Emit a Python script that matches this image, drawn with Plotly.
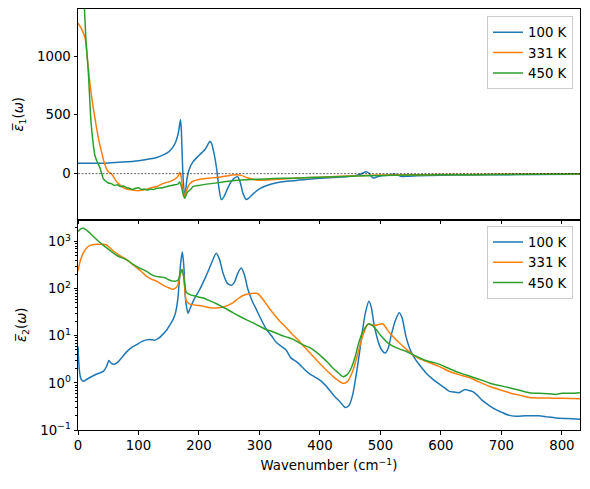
import plotly.graph_objects as go

labels = ["100 K", "331 K", "450 K"]
colors = ["#1f77b4", "#ff7f0e", "#2ca02c"]

# ---- eps1 (top panel) ----
w1_100 = [0, 25, 50, 75, 100, 120, 130, 141, 150, 157, 162, 166, 169.5, 171, 172.5, 174, 176.6, 178, 180, 184, 190, 200, 210, 215, 218, 221, 225, 229, 233, 237, 241, 247, 253, 258, 264, 268, 273, 278, 283, 290, 300, 310, 320, 335, 350, 366, 380, 400, 430, 455, 465, 471, 476, 481, 485, 488, 493, 500, 510, 517, 523, 528, 535, 545, 560, 600, 650, 700, 750, 830]
e1_100 = [88, 88, 90, 98, 110, 126, 138, 160, 185, 225, 275, 350, 460, 350, 120, -60, -203, -150, -50, 40, 100, 155, 205, 250, 275, 255, 170, 50, -120, -220, -200, -130, -70, -40, -26, -70, -170, -220, -205, -170, -130, -105, -88, -72, -62, -55, -48, -40, -30, -20, -10, 5, 17, 5, -25, -37, -30, -20, -15, -10, -5, -10, -25, -22, -18, -14, -11, -9, -7, -5]

w1_331 = [0, 5, 11.5, 16, 20, 24, 28, 33, 39, 43, 47, 51, 55, 58, 62, 67, 72, 80, 90, 100, 110, 119, 130, 141, 150, 160, 165, 168, 170, 172, 174.5, 176.6, 179, 182, 185, 190, 200, 215, 229, 245, 255, 263, 270, 280, 295, 310, 330, 350, 366, 400, 450, 500, 550, 600, 700, 830]
e1_331 = [1280, 1240, 1158, 950, 755, 600, 472, 320, 183, 100, 43, 12, 0, -20, -55, -85, -110, -130, -140, -145, -138, -123, -110, -83, -70, -46, -25, 11, -10, -80, -160, -203, -150, -110, -85, -65, -50, -40, -32, -20, -12, -9, -15, -35, -54, -55, -48, -42, -37, -30, -20, -12, -10, -8, -6, -4]

w1_450 = [0, 4, 8, 10.4, 13, 17, 21.5, 25, 28, 31, 33.5, 37, 42, 46, 50, 55, 60, 65, 70, 75, 80, 85, 90, 95, 100, 105, 110, 115, 120, 125, 130, 140, 152, 160, 165, 168, 171, 174, 176.6, 179, 182, 186, 190, 200, 220, 240, 256, 280, 310, 340, 366, 400, 450, 500, 550, 600, 700, 830]
e1_450 = [2800, 2300, 1800, 1440, 1150, 870, 440, 260, 154, 110, 83, 40, -45, -65, -80, -85, -100, -95, -110, -105, -120, -125, -135, -125, -120, -135, -130, -140, -131, -135, -125, -120, -103, -95, -90, -72, -110, -180, -210, -180, -150, -135, -111, -100, -85, -72, -60, -52, -45, -40, -37, -30, -22, -15, -12, -10, -7, -3]

# ---- eps2 (bottom panel) ----
w2_100 = [0, 2, 5, 9, 14, 22, 31, 42, 47, 51, 55, 60, 65, 72, 80, 90, 97, 105, 113, 120, 127, 134, 141, 147, 152, 157, 161, 165, 168, 170, 172.5, 175, 177, 179, 182, 186, 192, 201, 212, 220, 228.5, 234, 240, 247, 253.5, 259, 264, 270, 275, 281, 288, 295, 303, 311, 320, 328, 336, 344, 352, 360, 366, 375, 383, 391, 400, 408, 416, 424, 433, 442, 448, 454, 460, 465, 470, 475, 481, 485, 490, 498, 503, 508, 513, 518, 524, 531, 536, 542, 550, 559, 567, 575, 585, 597, 605, 614, 622, 630, 639, 645, 652, 660, 669, 680, 691, 700, 710, 724, 740, 762, 775, 790, 810, 830]
e2_100 = [6, 2.0, 1.2, 1.08, 1.18, 1.35, 1.55, 1.75, 2.2, 3.0, 2.6, 2.5, 2.7, 3.4, 4.5, 5.8, 6.5, 7.5, 8.2, 8.3, 8.1, 9.0, 11, 13.5, 17, 22, 30, 60, 180, 380, 600, 300, 80, 45, 30, 40, 60, 95, 190, 330, 570, 420, 210, 130, 118, 140, 210, 275, 200, 96, 55, 36, 22, 14, 10, 7.2, 6, 5, 3.4, 2.9, 2.5, 1.9, 1.55, 1.35, 1.15, 0.92, 0.7, 0.52, 0.4, 0.3, 0.33, 0.55, 1.5, 4, 12, 30, 54, 40, 16, 6.5, 4.8, 4.3, 5.5, 10.5, 20, 31, 24, 10, 4.8, 3.0, 2.2, 1.65, 1.25, 0.95, 0.8, 0.66, 0.64, 0.62, 0.72, 0.7, 0.66, 0.55, 0.42, 0.33, 0.27, 0.24, 0.21, 0.195, 0.2, 0.2, 0.19, 0.18, 0.175, 0.17]

w2_331 = [0, 4, 9, 15, 20, 31, 40, 47, 58, 70, 80, 90, 97, 105, 113, 121, 130, 141, 150, 155, 160, 165, 169, 172, 175, 179, 185, 201, 218, 240, 256, 265, 273, 283, 290, 297, 306, 314, 322, 333, 344, 355, 366, 372, 383, 394, 405, 416, 427, 438, 445, 454, 461, 468, 474, 479, 486, 492, 498, 504, 509, 515, 523, 531, 542, 553, 564, 575, 586, 597, 614, 630, 647, 663, 680, 697, 713, 730, 746, 762, 779, 800, 830]
e2_331 = [236, 400, 583, 750, 835, 880, 880, 850, 640, 500, 420, 330, 280, 230, 185, 160, 145, 118, 105, 98, 100, 120, 200, 257, 180, 55, 47, 44, 39.5, 41, 50, 62, 72, 78, 80, 79, 59, 42, 31, 21, 15, 10.5, 7.7, 6.2, 4.4, 3.1, 2.2, 1.6, 1.2, 0.98, 1.05, 1.75, 3.5, 7.7, 13, 17.5, 17, 16.8, 17.5, 18, 15, 11.6, 9, 7.1, 5.3, 4.0, 3.3, 2.9, 2.55, 2.25, 1.75, 1.5, 1.3, 1.05, 0.85, 0.72, 0.62, 0.55, 0.49, 0.48, 0.48, 0.47, 0.46]

w2_450 = [0, 4, 9, 17, 25, 33.5, 42, 50, 58, 66.5, 75, 83, 91, 99.5, 106, 113, 120, 127, 135, 143.6, 150, 157, 162, 166, 169, 172, 175, 179, 185, 193, 201, 209.6, 220, 229, 237, 245, 256, 267, 278, 289, 300, 311, 322, 333, 344, 355, 366, 375, 383, 394, 405, 413, 421, 430, 438, 445, 452, 458, 465, 472, 481, 487, 493, 501, 509, 517, 526, 534, 542, 550, 559, 567, 575, 586, 597, 614, 630, 647, 663, 680, 697, 713, 730, 746, 762, 779, 790, 800, 815, 830]
e2_450 = [1650, 1850, 1920, 1630, 1300, 1030, 830, 690, 580, 490, 440, 390, 330, 285, 260, 236, 205, 185, 178, 171, 155, 145, 145, 155, 210, 257, 170, 85, 75, 70, 66, 62, 54, 48, 42, 37.5, 31, 26, 22, 19, 16, 13.6, 12.2, 10.7, 9.5, 8.5, 7.1, 6.2, 5.6, 4.5, 3.4, 2.7, 2.1, 1.65, 1.36, 1.5, 2.1, 3.5, 7.7, 13, 18, 16.5, 13.6, 10, 7.7, 6.4, 5.6, 5.1, 4.7, 4.2, 3.7, 3.3, 3.0, 2.75, 2.5, 2.0, 1.65, 1.4, 1.2, 1.0, 0.88, 0.79, 0.7, 0.62, 0.6, 0.59, 0.57, 0.6, 0.6, 0.62]

x_range = [0, 830]
y1_range = [-390, 1400]
y2_log_range = [-1, 3.47]

FONT = "DejaVu Sans"
FS = 13.3

fig = go.Figure()

top = [(w1_100, e1_100), (w1_331, e1_331), (w1_450, e1_450)]
bot = [(w2_100, e2_100), (w2_331, e2_331), (w2_450, e2_450)]

for (w, e), lab, c in zip(top, labels, colors):
    fig.add_trace(go.Scatter(x=w, y=e, mode="lines", name=lab,
                             line=dict(color=c, width=1.5, shape="spline", smoothing=0.6),
                             xaxis="x", yaxis="y", legend="legend"))
for (w, e), lab, c in zip(bot, labels, colors):
    fig.add_trace(go.Scatter(x=w, y=e, mode="lines", name=lab,
                             line=dict(color=c, width=1.5, shape="spline", smoothing=0.6),
                             xaxis="x2", yaxis="y2", legend="legend2"))

# zero line in top panel
fig.add_shape(type="line", xref="x", yref="y", x0=x_range[0], x1=x_range[1], y0=0, y1=0,
              line=dict(color="black", width=0.6, dash="2px,1.5px"), layer="above")

axis_common = dict(showline=True, linecolor="black", linewidth=1, mirror=True,
                   ticks="outside", ticklen=3.5, tickwidth=1, tickcolor="black",
                   showgrid=False, zeroline=False,
                   tickfont=dict(family=FONT, size=FS, color="black"))

minor_vals = []
for d in [0.1, 1, 10, 100, 1000]:
    for k in range(2, 10):
        v = d * k
        if v < 3000:
            minor_vals.append(v)

legend_common = dict(xanchor="right", yanchor="top", bgcolor="rgba(255,255,255,0.8)",
                     bordercolor="#cccccc", borderwidth=1,
                     font=dict(family=FONT, size=FS, color="black"),
                     tracegroupgap=0, itemwidth=30)

fig.update_layout(
    width=590, height=489,
    margin=dict(l=78, r=10, t=9, b=59),
    paper_bgcolor="white", plot_bgcolor="white",
    font=dict(family=FONT, size=FS, color="black"),
    xaxis=dict(domain=[0, 1], anchor="y", range=x_range, showticklabels=False,
               tickvals=[0, 100, 200, 300, 400, 500, 600, 700, 800], **axis_common),
    yaxis=dict(domain=[0.5, 1], anchor="x", range=y1_range,
               tickvals=[0, 500, 1000],
               title=dict(text="<i>ε̅</i><sub>1</sub>(<i>ω</i>)", standoff=10,
                          font=dict(family=FONT, size=FS)),
               **axis_common),
    xaxis2=dict(domain=[0, 1], anchor="y2", range=x_range, matches="x",
                tickvals=[0, 100, 200, 300, 400, 500, 600, 700, 800],
                title=dict(text="Wavenumber (cm<sup>−1</sup>)", standoff=8,
                           font=dict(family=FONT, size=FS)),
                **axis_common),
    yaxis2=dict(domain=[0, 0.5], anchor="x2", type="log", range=y2_log_range,
                tickvals=[0.1, 1, 10, 100, 1000],
                ticktext=["10<sup>−1</sup>", "10<sup>0</sup>", "10<sup>1</sup>", "10<sup>2</sup>", "10<sup>3</sup>"],
                minor=dict(tickvals=minor_vals, ticks="outside", ticklen=2, tickcolor="black", tickwidth=0.8),
                title=dict(text="<i>ε̅</i><sub>2</sub>(<i>ω</i>)", standoff=10,
                           font=dict(family=FONT, size=FS)),
                **axis_common),
    legend=dict(x=0.986, y=0.983, **legend_common),
    legend2=dict(x=0.986, y=0.485, **legend_common),
)

fig.write_html("out.html")
